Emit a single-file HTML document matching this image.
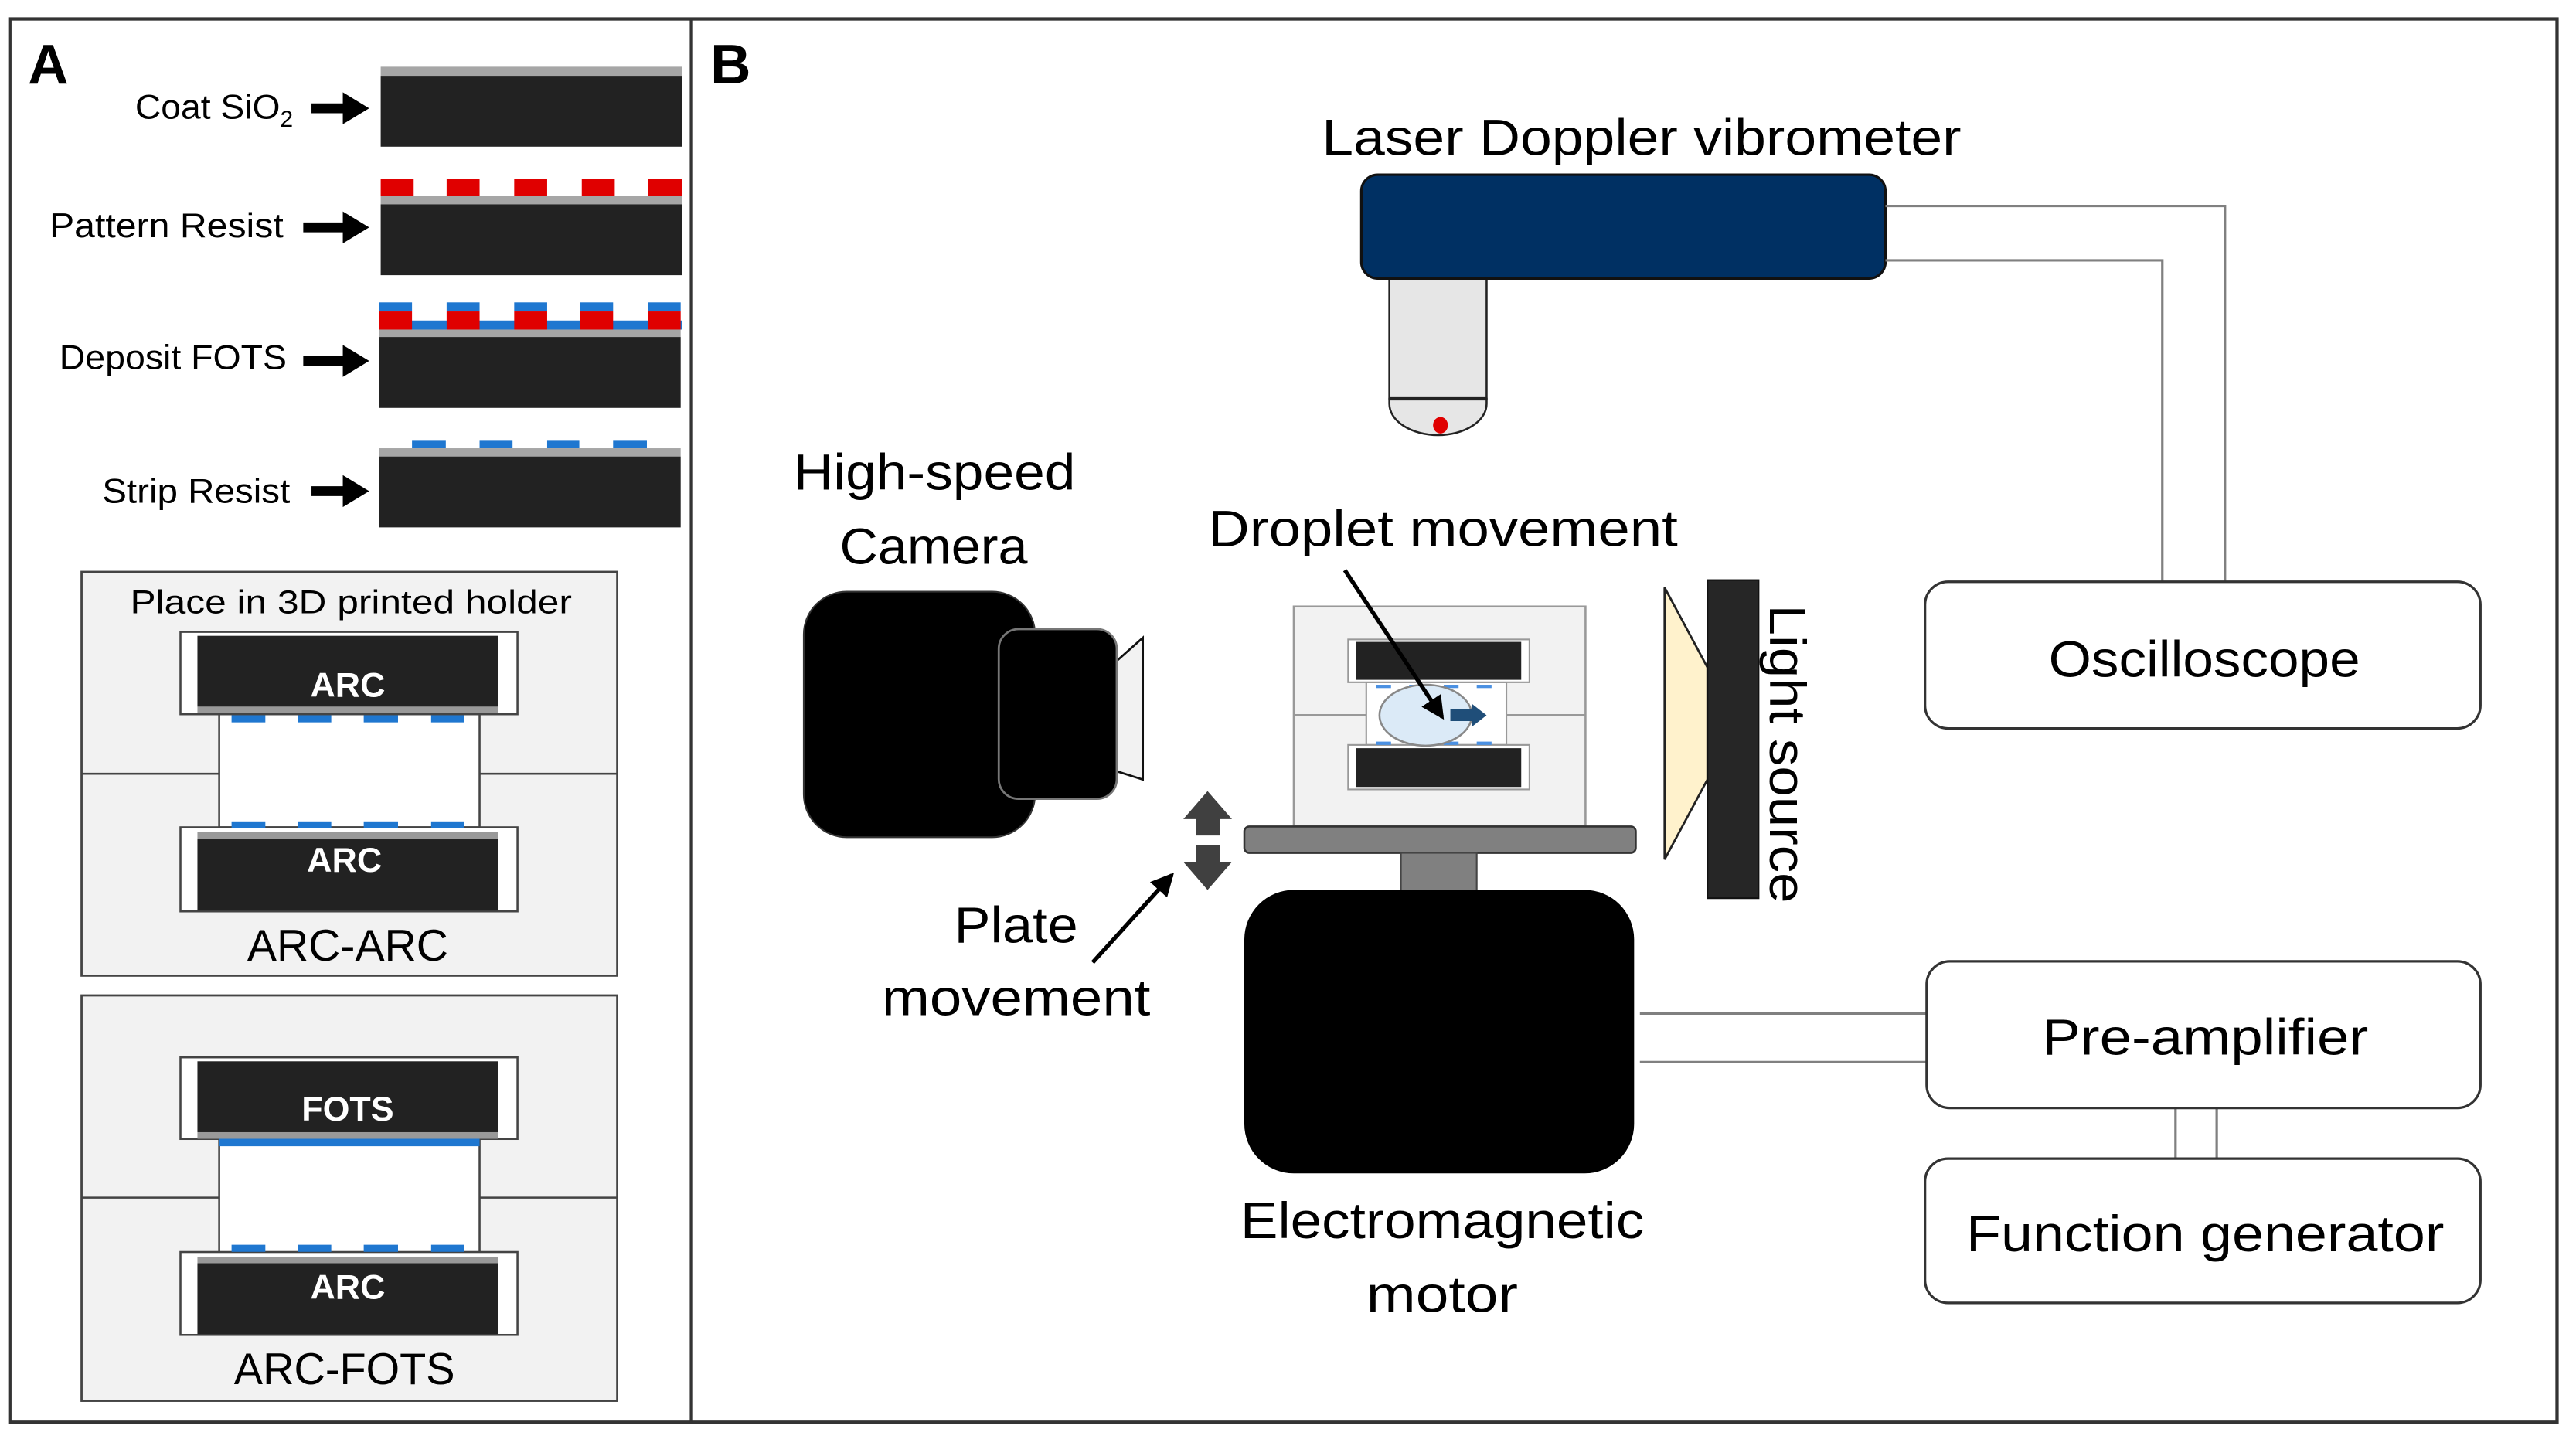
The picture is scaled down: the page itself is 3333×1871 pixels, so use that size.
<!DOCTYPE html>
<html><head><meta charset="utf-8"><style>
html,body{margin:0;padding:0;background:#fff;}
svg{display:block;}
text{font-family:"Liberation Sans",sans-serif;fill:#000;}
</style></head><body>
<svg width="3333" height="1871" viewBox="0 0 1563 877.4" preserveAspectRatio="none" xmlns="http://www.w3.org/2000/svg">
<defs>
<marker id="ah" markerWidth="8" markerHeight="8" refX="6" refY="4" orient="auto" markerUnits="userSpaceOnUse"><path d="M0,0 L8,4 L0,8 z" fill="#000"/></marker>
<marker id="ah2" markerWidth="14" markerHeight="14" refX="12" refY="7" orient="auto" markerUnits="userSpaceOnUse"><path d="M0,0 L14,7 L0,14 z" fill="#000"/></marker>
</defs>
<!-- outer frame -->
<rect x="6" y="11.5" width="1545.5" height="851.5" fill="none" stroke="#333" stroke-width="2"/>
<line x1="419.5" y1="11.5" x2="419.5" y2="863" stroke="#333" stroke-width="2"/>
<text x="17" y="50.6" font-size="34" font-weight="bold">A</text>
<text x="431" y="50.7" font-size="34" font-weight="bold">B</text>

<!-- Panel A process steps -->
<g>
<rect x="231" y="40.5" width="183" height="5.5" fill="#a6a6a6"/>
<rect x="231" y="46" width="183" height="43" fill="#222"/>
<text x="82" y="72" font-size="21" textLength="88" lengthAdjust="spacingAndGlyphs">Coat SiO</text>
<text x="170" y="77" font-size="14">2</text>
<line x1="189" y1="65.7" x2="210" y2="65.7" stroke="#000" stroke-width="6"/>
<path d="M208,56 L224,65.7 L208,75.4 z" fill="#000"/>

<g fill="#e00000">
<rect x="231" y="108.7" width="20" height="10"/><rect x="271" y="108.7" width="20" height="10"/><rect x="312" y="108.7" width="20" height="10"/><rect x="353" y="108.7" width="20" height="10"/><rect x="393" y="108.7" width="21" height="10"/>
</g>
<rect x="231" y="118.7" width="183" height="5.3" fill="#a6a6a6"/>
<rect x="231" y="124" width="183" height="43" fill="#222"/>
<text x="30" y="144" font-size="21" textLength="142" lengthAdjust="spacingAndGlyphs">Pattern Resist</text>
<line x1="184" y1="138" x2="210" y2="138" stroke="#000" stroke-width="6"/>
<path d="M208,128.3 L224,138 L208,147.7 z" fill="#000"/>

<rect x="231" y="194.5" width="183" height="5.5" fill="#1f77d0"/>
<g fill="#e00000">
<rect x="230" y="189" width="20" height="11"/><rect x="271" y="189" width="20" height="11"/><rect x="312" y="189" width="20" height="11"/><rect x="352" y="189" width="20" height="11"/><rect x="393" y="189" width="20" height="11"/>
</g>
<g fill="#1f77d0">
<rect x="230" y="183.5" width="20" height="5.5"/><rect x="271" y="183.5" width="20" height="5.5"/><rect x="312" y="183.5" width="20" height="5.5"/><rect x="352" y="183.5" width="20" height="5.5"/><rect x="393" y="183.5" width="20" height="5.5"/>
</g>
<rect x="230" y="200" width="183" height="4.5" fill="#a6a6a6"/>
<rect x="230" y="204.5" width="183" height="43" fill="#222"/>
<text x="36" y="224" font-size="21" textLength="138" lengthAdjust="spacingAndGlyphs">Deposit FOTS</text>
<line x1="184" y1="219" x2="210" y2="219" stroke="#000" stroke-width="6"/>
<path d="M208,209.3 L224,219 L208,228.7 z" fill="#000"/>

<g fill="#1f77d0">
<rect x="250" y="267" width="20.5" height="5"/><rect x="291" y="267" width="20" height="5"/><rect x="332" y="267" width="19.5" height="5"/><rect x="372" y="267" width="20.5" height="5"/>
</g>
<rect x="230" y="272" width="183" height="5" fill="#a6a6a6"/>
<rect x="230" y="277" width="183" height="43" fill="#222"/>
<text x="62" y="305" font-size="21" textLength="114" lengthAdjust="spacingAndGlyphs">Strip Resist</text>
<line x1="189" y1="298" x2="210" y2="298" stroke="#000" stroke-width="6"/>
<path d="M208,288.3 L224,298 L208,307.7 z" fill="#000"/>
</g>

<!-- Holder ARC-ARC -->
<g id="h1">
<rect x="49.5" y="347" width="325" height="245" fill="#f2f2f2" stroke="#444" stroke-width="1.3"/>
</g>
<text x="79" y="372" font-size="20" textLength="268" lengthAdjust="spacingAndGlyphs">Place in 3D printed holder</text>
<g id="asm1">
<line x1="49.5" y1="469.5" x2="133" y2="469.5" stroke="#444" stroke-width="1.2"/>
<line x1="291" y1="469.5" x2="374.5" y2="469.5" stroke="#444" stroke-width="1.2"/>
<rect x="133" y="433" width="158" height="69" fill="#fff" stroke="#444" stroke-width="1.2"/>
<rect x="109.5" y="383.4" width="204.5" height="50" fill="#fff" stroke="#444" stroke-width="1.2"/>
<rect x="119.8" y="385.8" width="182.2" height="43" fill="#222"/>
<rect x="119.8" y="428.8" width="182.2" height="3.8" fill="#999"/>
<rect x="109.5" y="502" width="204.5" height="51" fill="#fff" stroke="#444" stroke-width="1.2"/>
<rect x="119.8" y="505" width="182.2" height="4" fill="#999"/>
<rect x="119.8" y="509" width="182.2" height="43.5" fill="#222"/>
<g fill="#1f77d0">
<rect x="140.5" y="434" width="20.5" height="4.3"/><rect x="181" y="434" width="20" height="4.3"/><rect x="220.7" y="434" width="20.8" height="4.3"/><rect x="261.6" y="434" width="20.2" height="4.3"/>
<rect x="140.5" y="498.4" width="20.5" height="4.3"/><rect x="181" y="498.4" width="20" height="4.3"/><rect x="220.7" y="498.4" width="20.8" height="4.3"/><rect x="261.6" y="498.4" width="20.2" height="4.3"/>
</g>
</g>
<text x="211" y="422.7" font-size="21" font-weight="bold" text-anchor="middle" style="fill:#fff">ARC</text>
<text x="209" y="529" font-size="21" font-weight="bold" text-anchor="middle" style="fill:#fff">ARC</text>
<text x="211" y="583" font-size="27" text-anchor="middle" textLength="122" lengthAdjust="spacingAndGlyphs">ARC-ARC</text>

<!-- Holder ARC-FOTS -->
<rect x="49.5" y="604" width="325" height="246" fill="#f2f2f2" stroke="#444" stroke-width="1.3"/>
<line x1="49.5" y1="726.7" x2="133" y2="726.7" stroke="#444" stroke-width="1.2"/>
<line x1="291" y1="726.7" x2="374.5" y2="726.7" stroke="#444" stroke-width="1.2"/>
<rect x="133" y="691" width="158" height="69" fill="#fff" stroke="#444" stroke-width="1.2"/>
<rect x="109.5" y="641.6" width="204.5" height="49.5" fill="#fff" stroke="#444" stroke-width="1.2"/>
<rect x="119.8" y="644" width="182.2" height="43" fill="#222"/>
<rect x="119.8" y="687" width="182.2" height="4" fill="#999"/>
<rect x="133" y="691" width="158" height="4.5" fill="#1f77d0"/>
<rect x="109.5" y="759.7" width="204.5" height="50.3" fill="#fff" stroke="#444" stroke-width="1.2"/>
<rect x="119.8" y="762.5" width="182.2" height="4" fill="#999"/>
<rect x="119.8" y="766.5" width="182.2" height="43" fill="#222"/>
<g fill="#1f77d0">
<rect x="140.5" y="755.3" width="20.5" height="4.3"/><rect x="181" y="755.3" width="20" height="4.3"/><rect x="220.7" y="755.3" width="20.8" height="4.3"/><rect x="261.6" y="755.3" width="20.2" height="4.3"/>
</g>
<text x="211" y="680" font-size="21" font-weight="bold" text-anchor="middle" style="fill:#fff">FOTS</text>
<text x="211" y="788" font-size="21" font-weight="bold" text-anchor="middle" style="fill:#fff">ARC</text>
<text x="209" y="840" font-size="27" text-anchor="middle" textLength="134" lengthAdjust="spacingAndGlyphs">ARC-FOTS</text>

<!-- Panel B -->
<text x="802" y="94" font-size="31" textLength="388" lengthAdjust="spacingAndGlyphs">Laser Doppler vibrometer</text>
<rect x="843" y="160" width="59" height="82" fill="#e6e6e6" stroke="#222" stroke-width="1.2"/>
<path d="M843,242 L902,242 L902,245 A29.5,19 0 0 1 843,245 z" fill="#e6e6e6" stroke="#222" stroke-width="1.2"/>
<line x1="843" y1="242" x2="902" y2="242" stroke="#222" stroke-width="2"/>
<ellipse cx="874" cy="258" rx="4.5" ry="5" fill="#e00000"/>
<rect x="826" y="106" width="318" height="63" rx="10" fill="#003063" stroke="#111" stroke-width="1.5"/>
<polyline points="1144,125 1350,125 1350,354" fill="none" stroke="#808080" stroke-width="1.5"/>
<polyline points="1144,158 1312,158 1312,354" fill="none" stroke="#808080" stroke-width="1.5"/>

<rect x="1168" y="353" width="337" height="89" rx="14" fill="#fff" stroke="#333" stroke-width="1.5"/>
<text x="1243" y="410.6" font-size="31" textLength="189" lengthAdjust="spacingAndGlyphs">Oscilloscope</text>
<line x1="995" y1="615" x2="1169" y2="615" stroke="#808080" stroke-width="1.5"/>
<line x1="995" y1="644.5" x2="1169" y2="644.5" stroke="#808080" stroke-width="1.5"/>
<line x1="1320" y1="672" x2="1320" y2="703" stroke="#808080" stroke-width="1.5"/>
<line x1="1345" y1="672" x2="1345" y2="703" stroke="#808080" stroke-width="1.5"/>
<rect x="1169" y="583.3" width="336" height="89" rx="14" fill="#fff" stroke="#333" stroke-width="1.5"/>
<text x="1239" y="640" font-size="31" textLength="198" lengthAdjust="spacingAndGlyphs">Pre-amplifier</text>
<rect x="1168" y="703" width="337" height="87.6" rx="14" fill="#fff" stroke="#333" stroke-width="1.5"/>
<text x="1193" y="759.2" font-size="31" textLength="290" lengthAdjust="spacingAndGlyphs">Function generator</text>

<!-- Camera -->
<text x="481.5" y="297" font-size="31" textLength="171" lengthAdjust="spacingAndGlyphs">High-speed</text>
<text x="509.5" y="342" font-size="31" textLength="114" lengthAdjust="spacingAndGlyphs">Camera</text>
<rect x="487.7" y="359" width="140.3" height="149" rx="26" fill="#000" stroke="#333" stroke-width="1"/>
<path d="M677.6,401 L693.4,387 L693.4,473 L677.6,468 z" fill="#f2f2f2" stroke="#111" stroke-width="1.3"/>
<rect x="606" y="381.7" width="71.6" height="103" rx="12" fill="#000" stroke="#777" stroke-width="1.3"/>

<!-- Sample holder on plate -->
<text x="733" y="331.4" font-size="31" textLength="285" lengthAdjust="spacingAndGlyphs">Droplet movement</text>
<rect x="785" y="368" width="177" height="133" fill="#f2f2f2" stroke="#999" stroke-width="1.2"/>
<line x1="785" y1="433.8" x2="829" y2="433.8" stroke="#999" stroke-width="1"/>
<line x1="914" y1="433.8" x2="962" y2="433.8" stroke="#999" stroke-width="1"/>
<rect x="829" y="414" width="85" height="38" fill="#fff" stroke="#999" stroke-width="1"/>
<rect x="818" y="388" width="110" height="26" fill="#fff" stroke="#999" stroke-width="1"/>
<rect x="823" y="389.5" width="100" height="23" fill="#222"/>
<rect x="818" y="452" width="110" height="27" fill="#fff" stroke="#999" stroke-width="1"/>
<rect x="823" y="454" width="100" height="23.5" fill="#222"/>
<g fill="#4a90e2">
<rect x="835" y="415.5" width="9" height="2"/><rect x="855" y="415.5" width="9" height="2"/><rect x="876" y="415.5" width="9" height="2"/><rect x="896" y="415.5" width="9" height="2"/>
<rect x="835" y="450" width="9" height="2"/><rect x="855" y="450" width="9" height="2"/><rect x="876" y="450" width="9" height="2"/><rect x="896" y="450" width="9" height="2"/>
</g>
<ellipse cx="865" cy="434" rx="28" ry="18.5" fill="#dbeaf7" stroke="#888" stroke-width="1.2"/>
<path d="M880,430.5 L893,430.5 L893,427 L902,434 L893,441 L893,437.5 L880,437.5 z" fill="#1f4e79"/>
<line x1="816" y1="346" x2="875" y2="435" stroke="#000" stroke-width="2.5" marker-end="url(#ah2)"/>

<rect x="755" y="501.5" width="237.5" height="16" rx="3" fill="#808080" stroke="#333" stroke-width="1.2"/>
<rect x="850" y="517.5" width="46" height="23" fill="#808080" stroke="#444" stroke-width="1"/>
<rect x="755" y="540" width="236.5" height="172" rx="30" fill="#000"/>
<text x="752.6" y="751.3" font-size="31" textLength="245" lengthAdjust="spacingAndGlyphs">Electromagnetic</text>
<text x="829" y="796" font-size="31" textLength="92" lengthAdjust="spacingAndGlyphs">motor</text>

<!-- up/down arrow -->
<path d="M732.7,480 L747.5,497 L740,497 L740,507 L725.5,507 L725.5,497 L718,497 z" fill="#404040"/>
<path d="M732.7,540 L747.5,523 L740,523 L740,513 L725.5,513 L725.5,523 L718,523 z" fill="#404040"/>
<text x="579" y="572" font-size="31" textLength="75" lengthAdjust="spacingAndGlyphs">Plate</text>
<text x="535" y="616" font-size="31" textLength="163" lengthAdjust="spacingAndGlyphs">movement</text>
<line x1="663" y1="584" x2="711" y2="531" stroke="#000" stroke-width="2.5" marker-end="url(#ah2)"/>

<!-- light source -->
<path d="M1010,356.5 L1036,405 L1036,473 L1010,521.5 z" fill="#fff2cc" stroke="#222" stroke-width="1.3"/>
<rect x="1036" y="352" width="31" height="193" fill="#262626" stroke="#111" stroke-width="1"/>
<text transform="translate(1074,367) rotate(90)" x="0" y="0" font-size="31" textLength="181" lengthAdjust="spacingAndGlyphs">Light source</text>
</svg>
</body></html>
